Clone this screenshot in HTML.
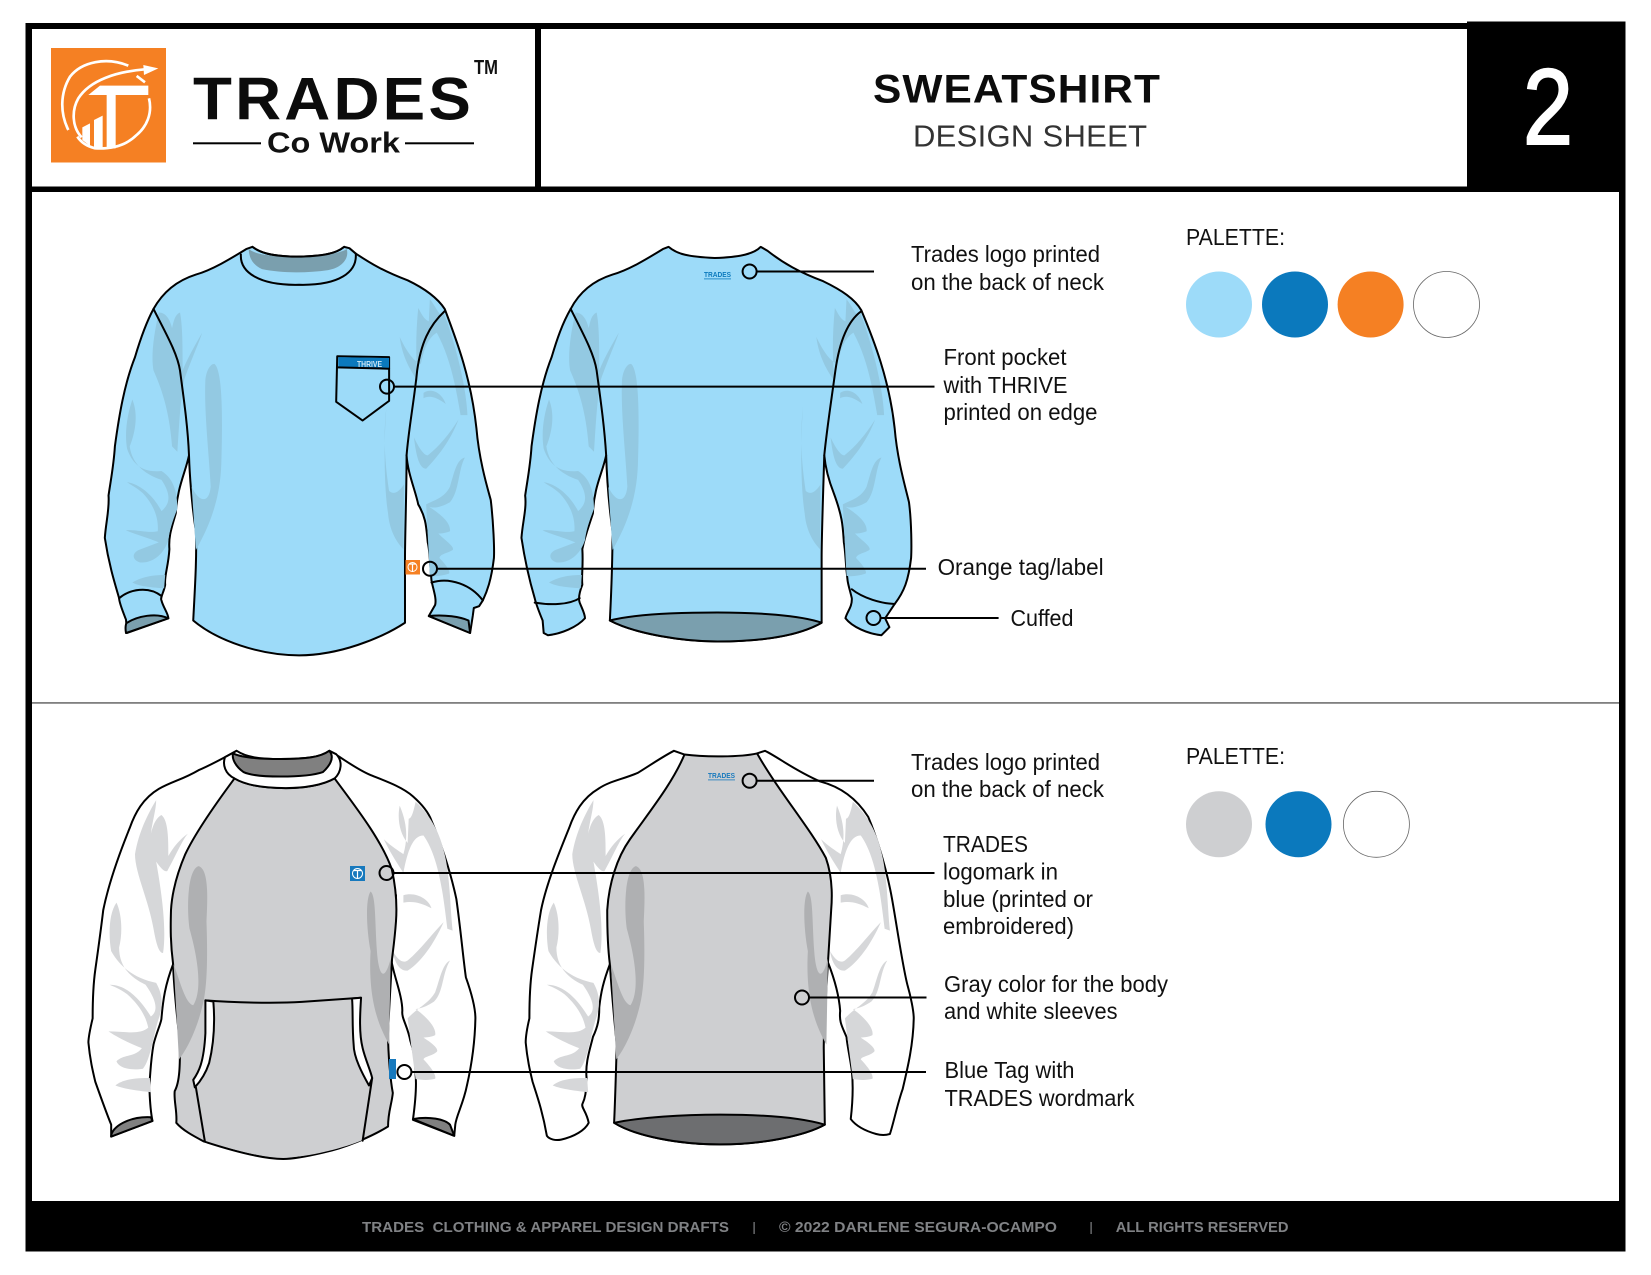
<!DOCTYPE html>
<html><head><meta charset="utf-8"><style>
html,body{margin:0;padding:0;background:#fff}
svg{display:block}
text{font-family:"Liberation Sans",sans-serif}
.o{stroke:#000;stroke-width:2;stroke-linejoin:round;stroke-linecap:round;vector-effect:non-scaling-stroke}
.n{fill:none}
.l{fill:none;stroke:#000;stroke-width:2}
.t{font-size:23.5px;fill:#111}
.f{font-size:15px;font-weight:bold;fill:#808285}
</style></head><body>
<svg xmlns="http://www.w3.org/2000/svg" width="1651" height="1275" viewBox="0 0 1651 1275">
<rect width="1651" height="1275" fill="#fff"/>
<!-- frame -->
<rect x="25.5" y="23" width="1600" height="1228.5" fill="#000"/>
<rect x="32" y="192" width="1587" height="1009" fill="#fff"/>
<rect x="32" y="29" width="503" height="157.500" fill="#fff"/>
<rect x="541" y="29" width="926" height="157.500" fill="#fff"/>
<rect x="1467" y="21.500" width="158.500" height="20" fill="#000"/>
<rect x="32" y="702" width="1587" height="1.800" fill="#808080"/>

<!-- logo -->
<rect x="51" y="48" width="115" height="114.500" fill="#F58023"/>
<g transform="translate(20,20) scale(.3333)">
<g fill="none" stroke="#fff" stroke-width="8">
<path d="M145 330 C120 280 120 220 150 170 C185 125 260 110 325 137"/>
<path d="M185 352 C155 320 155 270 175 235 C210 180 290 155 375 148"/>
<path d="M350 168 L375 187"/>
<path d="M387 235 C398 280 380 320 350 345 C320 375 280 388 225 385 C205 380 185 370 172 350"/>
</g>
<path d="M370 135 L415 145 L372 165 Z" fill="#fff"/>
<path d="M205 225 L240 197 L385 197 L385 225 L287 225 L287 385 L260 385 L260 225 Z" fill="#fff"/>
<path d="M187 322 L210 310 L210 378 L187 360 Z M222 300 L248 287 L248 388 L222 382 Z" fill="#fff"/>
</g>
<text x="193" y="119.500" font-size="60" font-weight="bold" fill="#0c0c0c" letter-spacing="3" textLength="281" lengthAdjust="spacingAndGlyphs">TRADES</text>
<text x="474" y="74" font-size="20.500" font-weight="bold" fill="#111" textLength="24" lengthAdjust="spacingAndGlyphs">TM</text>
<rect x="193" y="142.300" width="68" height="2" fill="#000"/>
<rect x="405" y="142.300" width="69" height="2" fill="#000"/>
<text x="267" y="152.500" font-size="29" font-weight="bold" fill="#111" textLength="133" lengthAdjust="spacingAndGlyphs">Co Work</text>

<!-- title -->
<text x="873" y="102.500" font-size="40" font-weight="bold" fill="#0c0c0c" letter-spacing="1" textLength="288" lengthAdjust="spacingAndGlyphs">SWEATSHIRT</text>
<text x="913" y="146.300" font-size="31" fill="#333" textLength="234" lengthAdjust="spacing">DESIGN SHEET</text>
<text x="1523" y="144" font-size="108" fill="#fff" stroke="#fff" stroke-width="2" textLength="50" lengthAdjust="spacingAndGlyphs">2</text>

<defs>
<g id="shTop" fill="#93C9E2">
<path d="M300 700 C290 750 285 800 290 830 C305 870 320 920 325 1000 L335 1012 C338 960 340 900 348 850 C360 810 375 770 382 745 C370 770 355 800 345 830 C345 780 345 730 340 700 C330 705 328 720 325 735 C322 720 315 700 300 700Z"/>
<path d="M250 895 C240 930 235 970 240 1005 C250 1040 270 1060 305 1055 C325 1070 335 1095 335 1140 C325 1170 320 1190 318 1210 C310 1240 290 1262 265 1260 C250 1255 248 1240 262 1232 L300 1215 C280 1205 250 1195 238 1188 C255 1185 280 1195 298 1190 C300 1160 290 1130 270 1105 C258 1092 245 1085 240 1080 C265 1085 290 1110 305 1145 C320 1130 325 1110 305 1075 C280 1065 250 1045 245 1000 C255 970 262 930 250 895Z"/>
<path d="M250 1305 C270 1290 295 1288 312 1288 L310 1318 C290 1316 265 1315 250 1305Z"/>
<path d="M405 815 C422 830 420 960 418 1040 C416 1110 400 1170 370 1232 L362 1090 C375 1125 395 1130 398 1090 C395 1020 385 920 388 850 C390 830 397 815 405 815Z"/>
<path d="M730 910 C722 990 730 1060 735 1100 C745 1110 755 1100 763 1085 L762 1230 C745 1210 735 1180 733 1150 C725 1090 725 980 730 910Z"/>
<path d="M755 755 C760 800 775 830 790 855 C785 810 785 750 790 690 C795 700 800 715 810 720 L812 670 C825 690 835 720 838 700 C860 770 880 860 883 930 L870 930 C860 860 850 800 825 745 C805 760 800 790 795 815 C780 810 765 780 755 755Z"/>
<path d="M800 880 C815 868 835 880 842 905 C825 890 812 885 800 892Z"/>
<path d="M866 940 C850 990 825 1025 805 1050 C790 1050 785 1010 782 980 C790 1000 800 1020 808 1020 C830 1000 850 970 866 940Z"/>
<path d="M878 1025 C865 1055 868 1100 850 1125 C835 1135 820 1140 810 1135 C830 1150 852 1170 850 1190 C840 1195 832 1195 828 1195 C840 1210 860 1225 855 1232 C845 1240 832 1240 830 1250 C840 1262 852 1280 848 1285 C835 1290 822 1292 812 1290 L805 1130 C820 1120 840 1115 850 1090 C858 1060 862 1030 878 1025Z"/>
</g>
<g id="shSleeve" fill="#D6D7D9">
<path d="M295 295 C280 330 262 380 255 440 C255 490 280 560 290 640 C295 680 300 705 308 705 C315 640 305 540 295 460 C300 470 310 490 316 485 C330 450 345 400 355 385 C340 400 328 420 318 445 C318 400 318 350 305 335 C292 345 288 370 285 385 C288 350 295 320 295 295Z"/>
<path d="M220 570 C205 600 205 660 210 700 C230 750 260 775 295 785 C305 810 310 840 300 880 C290 920 285 990 270 1015 C250 1020 225 1015 220 995 C235 975 255 985 268 960 C240 945 215 925 205 915 C235 915 265 925 280 905 C275 870 260 840 240 815 C225 800 215 795 207 790 C240 790 265 830 285 875 C300 860 295 830 275 790 C245 770 225 740 225 690 C232 650 230 600 220 570Z"/>
<path d="M218 1060 C235 1040 265 1040 283 1040 L285 1078 C265 1075 235 1070 218 1060Z"/>
<path d="M755 310 C750 345 755 385 770 410 L772 345 C778 345 782 320 785 300 C810 330 830 380 838 430 C850 490 850 580 855 645 L845 640 C838 560 830 450 800 390 C780 390 770 430 762 490 C748 460 735 430 725 400 C740 420 752 430 762 440 C770 400 770 360 755 310Z"/>
<path d="M762 550 C785 540 810 560 815 585 C795 570 780 565 762 570Z"/>
<path d="M838 622 C820 680 795 730 770 752 C755 755 745 730 742 700 C750 720 760 735 770 725 C795 695 815 655 838 622Z"/>
<path d="M850 725 C835 760 838 810 820 835 C805 850 790 855 785 855 C805 875 825 905 822 925 C812 932 805 930 800 932 C815 945 830 962 825 970 C815 982 802 982 800 990 C810 1005 825 1030 822 1042 C810 1047 795 1045 785 1043 L770 880 C790 850 810 840 822 810 C830 780 835 735 850 725Z"/>
</g>
<g id="shBody" fill="#AFB0B2">
<path d="M375 472 C395 480 392 560 390 620 C392 700 392 780 385 830 C375 900 355 960 338 990 L328 735 C340 780 350 840 365 845 C385 800 370 700 358 640 C352 580 355 480 375 472Z"/>
<path d="M700 540 C710 550 708 620 712 700 C715 760 725 790 738 720 L735 950 C715 900 695 830 700 700 C692 640 690 560 700 540Z"/>
</g>
</defs>

<!-- TOP FRONT -->
<g transform="scale(.5294,.4464)">
<path class="o" fill="#9DDBF9" d="M477 553 C490 565 510 574 560 575 C610 574 635 568 650 553 L660 556 L672 568 C700 590 725 608 770 628 C800 645 825 665 840 692 C865 770 890 850 900 960 C905 1030 920 1090 927 1120 C932 1170 934 1230 933 1250 C928 1300 920 1325 912 1345 L905 1358 L895 1362 L893 1380 L888 1418 L810 1380 L822 1355 C825 1340 818 1320 815 1300 C812 1260 812 1235 808 1215 C805 1180 805 1160 790 1130 C785 1100 770 1060 768 1020 C768 1100 765 1200 765 1250 L765 1395 C720 1430 640 1468 565 1468 C490 1468 410 1435 365 1390 C368 1320 372 1250 370 1190 C362 1130 358 1060 357 1020 C350 1060 335 1090 332 1150 C325 1180 318 1200 320 1230 C318 1270 310 1290 312 1310 C310 1325 302 1340 305 1345 C308 1360 318 1375 318 1385 L240 1418 L238 1388 C232 1370 225 1350 225 1340 C215 1300 205 1260 198 1205 C200 1170 207 1140 205 1110 C210 1070 215 1040 217 1000 C225 930 235 860 255 800 C265 760 275 725 290 692 C305 660 330 630 370 615 C400 605 435 580 465 558 Z"/>
<use href="#shTop"/>
<path fill="#7A9FAE" d="M470 558 C485 572 520 575 560 575 C610 574 640 568 655 558 C660 580 645 600 620 605 C580 612 530 612 495 603 C480 595 470 580 470 558 Z"/>
<path fill="#7A9FAE" class="o" d="M238 1418 C236 1405 238 1395 240 1395 C260 1380 295 1372 318 1385 Z"/>
<path fill="#7A9FAE" class="o" d="M810 1380 C840 1376 870 1382 885 1390 L888 1418 Z"/>
<path class="o n" d="M477 553 C490 565 510 574 560 575 C610 574 635 568 650 553"/>
<path class="o n" d="M455 570 C453 610 490 640 565 638 C640 640 675 610 672 568"/>
<path class="o n" d="M290 692 C310 740 335 790 340 830 C348 900 355 960 357 1020"/>
<path class="o n" d="M840 697 C810 730 795 770 788 830 C782 900 772 960 768 1020"/>
<path class="o n" d="M225 1340 C245 1320 280 1312 305 1335"/>
<path class="o n" d="M815 1305 C850 1292 890 1310 912 1345"/>
<path class="o" fill="#9DDBF9" d="M637 798 L735 800 L735 898 L685 942 L635 900 Z"/>
<path fill="#0B79BD" d="M639 800 L735 802 L735 824 L639 822 Z"/>
<path class="o n" d="M637 823 L735 826"/>
</g>
<text x="357" y="367" font-size="8" font-weight="bold" fill="#cfe8f5" textLength="25" lengthAdjust="spacingAndGlyphs">THRIVE</text>
<rect x="405.500" y="560" width="14.500" height="14.500" fill="#F58023"/>
<circle cx="412.500" cy="567" r="4.500" fill="none" stroke="#fff" stroke-width="1"/>
<path d="M409 564 H416 M412.500 564 V572" stroke="#fff" stroke-width="1.200" fill="none"/>

<!-- TOP BACK -->
<g transform="scale(.5294,.4464)">
<path class="o" fill="#9DDBF9" d="M1263 553 C1280 570 1300 575 1350 578 C1400 576 1425 568 1437 553 L1450 562 C1480 590 1510 610 1555 630 C1590 650 1615 670 1627 695 C1650 760 1680 850 1690 960 C1695 1030 1710 1090 1717 1125 C1722 1170 1722 1230 1721 1250 C1716 1300 1708 1325 1690 1353 L1672 1385 L1680 1405 L1665 1423 C1640 1420 1610 1405 1597 1385 C1600 1370 1610 1360 1609 1340 C1605 1320 1602 1310 1601 1300 C1597 1260 1597 1235 1594 1215 C1592 1180 1592 1160 1575 1105 C1570 1090 1560 1060 1557 1020 C1555 1100 1552 1200 1552 1250 L1552 1395 C1500 1430 1420 1437 1355 1437 C1290 1437 1200 1420 1152 1390 C1155 1320 1157 1250 1157 1190 C1150 1130 1146 1060 1145 1020 C1138 1060 1122 1090 1120 1150 C1112 1180 1105 1200 1100 1230 C1102 1270 1098 1290 1100 1310 C1095 1325 1092 1340 1095 1350 C1100 1365 1105 1375 1105 1385 C1090 1405 1060 1420 1035 1423 L1027 1418 L1025 1390 C1018 1370 1012 1350 1010 1340 C1000 1300 992 1260 985 1205 C987 1170 995 1140 992 1110 C997 1070 1002 1040 1004 1000 C1012 930 1022 860 1042 800 C1052 760 1062 725 1078 692 C1092 660 1117 630 1157 615 C1187 605 1222 580 1252 558 Z"/>
<use href="#shTop" transform="translate(787,0)"/>
<path fill="#7A9FAE" class="o" d="M1152 1390 C1200 1375 1290 1372 1355 1372 C1430 1372 1510 1378 1552 1395 C1500 1430 1420 1437 1355 1437 C1290 1437 1200 1420 1152 1390Z"/>
<path class="o n" d="M1078 692 C1098 740 1122 790 1127 830 C1135 900 1142 960 1145 1020"/>
<path class="o n" d="M1627 697 C1600 720 1585 770 1578 830 C1570 900 1562 960 1557 1020"/>
<path class="o n" d="M1010 1350 C1040 1356 1075 1355 1095 1340"/>
<path class="o n" d="M1609 1320 C1630 1340 1665 1352 1690 1353"/>
</g>
<text x="704" y="277" font-size="7" font-weight="bold" fill="#0B79BD" textLength="27" lengthAdjust="spacingAndGlyphs">TRADES</text>
<rect x="704" y="278.500" width="27" height=".8" fill="#0B79BD"/>

<!-- BOTTOM FRONT -->
<g transform="translate(0,690) scale(.5294,.3731)">
<path class="o" fill="#fff" d="M447 163 C425 180 400 200 375 215 C345 240 325 245 300 265 C270 290 255 330 245 370 C225 440 205 520 195 590 C190 650 185 700 180 750 C175 800 175 850 175 880 C170 910 167 930 167 945 C170 990 175 1020 180 1050 C190 1090 200 1130 210 1165 L210 1197 L288 1155 C283 1120 283 1090 282 1060 C285 1010 285 990 290 950 C295 920 305 890 305 880 C308 830 312 790 327 735 L340 480 L443 237 Z"/>
<path class="o" fill="#fff" d="M622 163 C645 180 670 210 700 228 C730 245 760 260 780 285 C800 310 810 330 815 350 C830 400 850 480 862 560 C870 640 875 720 880 770 C890 810 898 850 898 880 C897 950 890 1010 882 1060 C875 1110 862 1140 860 1165 L858 1195 L780 1152 C785 1100 787 1060 785 1030 C785 990 780 960 775 940 C770 900 758 880 760 860 C760 820 745 770 740 730 L748 550 L632 237 Z"/>
<use href="#shSleeve"/>
<path class="o" fill="#CECFD1" d="M443 237 C470 260 510 263 540 263 C575 263 610 255 632 237 C670 310 720 400 740 480 C748 530 750 580 748 620 C745 680 740 720 740 730 C738 790 735 850 733 920 C733 980 738 1050 742 1080 C740 1110 733 1130 733 1170 C710 1190 660 1225 610 1240 C580 1250 555 1257 535 1257 C500 1257 450 1240 385 1210 C365 1195 345 1180 333 1160 C335 1130 328 1100 330 1075 C340 1050 340 1000 340 950 C335 880 328 800 327 735 C322 680 322 640 323 590 C325 540 335 490 350 440 C370 380 410 300 443 237 Z"/>
<use href="#shBody"/>
<path fill="#CECFD1" d="M388 832 C440 838 520 840 570 836 L682 825 L703 1040 L685 1206 C650 1228 580 1253 535 1253 C490 1253 430 1228 387 1206 L370 1065 C390 1000 390 900 388 832Z"/>
<path class="o" fill="#fff" d="M425 180 C420 200 425 225 443 237 C470 260 510 263 540 263 C575 263 610 255 632 237 C645 220 648 190 635 172 L622 163 C605 180 580 185 530 185 C490 185 465 180 447 163Z"/>
<path class="o" fill="#808080" d="M440 170 C455 180 490 185 530 185 C580 185 605 180 622 163 C632 180 625 200 610 220 C590 230 560 232 530 232 C500 232 475 230 460 220 C445 205 438 185 440 170Z"/>
<path class="o n" d="M388 832 C440 838 520 840 570 836 L682 825"/>
<path class="o" fill="#fff" d="M388 832 L403 835 C405 870 407 930 395 1000 C388 1030 378 1050 368 1065 L365 1045 C375 1025 385 1000 388 920 Z"/>
<path class="o" fill="#fff" d="M665 827 L682 825 C680 870 678 920 685 960 C690 990 700 1020 703 1040 L697 1060 C685 1030 668 985 668 950 C665 900 667 860 665 827 Z"/>
<path class="o n" d="M370 1065 L387 1210"/>
<path class="o n" d="M703 1040 L685 1208"/>
<path class="o" fill="#808080" d="M210 1197 C210 1170 245 1142 285 1145 L288 1155 Z"/>
<path class="o" fill="#808080" d="M780 1150 C810 1142 840 1150 850 1165 L858 1195 Z"/>
</g>
<rect x="350" y="866" width="15" height="15" fill="#1779BD"/>
<circle cx="357.500" cy="873.500" r="5" fill="none" stroke="#fff" stroke-width="1"/>
<path d="M354 870.500 H361 M357.500 870.500 V878" stroke="#fff" stroke-width="1.200" fill="none"/>
<rect x="389" y="1059" width="7" height="20" fill="#1779BD"/>

<!-- BOTTOM BACK -->
<g transform="translate(0,690) scale(.5294,.3731)">
<path class="o" fill="#fff" d="M1273 163 C1250 180 1230 200 1205 222 C1175 240 1150 245 1130 265 C1100 290 1085 330 1075 370 C1055 440 1032 520 1022 590 C1015 650 1010 700 1005 750 C1000 800 1000 850 1000 880 C995 910 993 930 993 945 C996 990 1001 1020 1006 1050 C1015 1090 1025 1130 1033 1195 C1038 1205 1050 1208 1060 1205 C1085 1197 1105 1180 1112 1160 C1108 1130 1098 1120 1100 1110 C1110 1080 1105 1060 1108 1040 C1105 1000 1115 960 1120 930 C1130 900 1132 880 1132 850 C1135 810 1140 780 1152 735 L1200 480 L1320 200 L1293 173 Z"/>
<path class="o" fill="#fff" d="M1445 163 C1470 180 1500 215 1549 245 C1590 260 1620 295 1640 340 C1655 390 1675 480 1685 560 C1695 640 1705 740 1714 790 C1720 820 1726 860 1726 880 C1725 950 1715 1010 1705 1070 C1695 1110 1688 1160 1681 1190 C1670 1195 1660 1192 1655 1190 C1630 1180 1615 1165 1607 1150 C1611 1100 1612 1060 1609 1020 C1605 980 1600 950 1599 930 C1590 900 1585 890 1587 860 C1585 820 1575 770 1564 730 L1540 550 L1420 200 L1430 170 Z"/>
<use href="#shSleeve" transform="translate(826,0)"/>
<path class="o" fill="#CECFD1" d="M1293 173 C1330 180 1400 180 1430 170 C1470 270 1530 370 1560 450 C1570 490 1573 540 1570 590 C1567 660 1565 700 1564 730 C1561 800 1556 900 1556 960 C1557 1050 1558 1120 1558 1165 C1520 1195 1440 1218 1360 1218 C1280 1218 1200 1195 1160 1160 C1162 1100 1163 1050 1165 950 C1160 880 1155 800 1152 735 C1147 680 1147 620 1147 590 C1150 520 1165 450 1190 400 C1230 320 1270 250 1293 173 Z"/>
<use href="#shBody" transform="translate(826,0)"/>
<path class="o" fill="#6D6E70" d="M1160 1160 C1210 1145 1290 1138 1360 1138 C1440 1138 1510 1145 1558 1165 C1520 1195 1440 1218 1360 1218 C1280 1218 1200 1195 1160 1160Z"/>
</g>
<text x="708" y="778" font-size="7" font-weight="bold" fill="#1779BD" textLength="27" lengthAdjust="spacingAndGlyphs">TRADES</text>
<rect x="708" y="779.500" width="27" height=".8" fill="#1779BD"/>

<!-- leaders -->
<g class="l">
<ellipse cx="749.600" cy="271.500" rx="7" ry="7"/><path d="M756.600 271.500 H874"/>
<ellipse cx="387" cy="386.600" rx="7" ry="7"/><path d="M394 386.600 H934.500"/>
<ellipse cx="430" cy="568.700" rx="7" ry="7"/><path d="M437 568.700 H926"/>
<ellipse cx="873.500" cy="618" rx="7" ry="7"/><path d="M880.500 618 H998.600"/>
<ellipse cx="749.600" cy="780.700" rx="7" ry="7"/><path d="M756.600 780.700 H874"/>
<ellipse cx="386.500" cy="873" rx="7" ry="7"/><path d="M393.500 873 H934.500"/>
<ellipse cx="802" cy="997.500" rx="7" ry="7"/><path d="M809 997.500 H926.500"/>
<ellipse cx="404.400" cy="1072" rx="7" ry="7"/><path d="M411.400 1072 H926"/>
</g>

<!-- labels -->
<text class="t" x="911" y="262" textLength="189" lengthAdjust="spacingAndGlyphs">Trades logo printed</text>
<text class="t" x="911" y="290" textLength="193" lengthAdjust="spacingAndGlyphs">on the back of neck</text>
<text class="t" x="943.500" y="365" textLength="123" lengthAdjust="spacingAndGlyphs">Front pocket</text>
<text class="t" x="943.500" y="393" textLength="124" lengthAdjust="spacingAndGlyphs">with THRIVE</text>
<text class="t" x="943.500" y="420" textLength="154" lengthAdjust="spacingAndGlyphs">printed on edge</text>
<text class="t" x="937.600" y="575" textLength="166" lengthAdjust="spacingAndGlyphs">Orange tag/label</text>
<text class="t" x="1010.500" y="626" textLength="63" lengthAdjust="spacingAndGlyphs">Cuffed</text>
<text class="t" x="1186" y="245" textLength="99" lengthAdjust="spacingAndGlyphs">PALETTE:</text>
<text class="t" x="911" y="770" textLength="189" lengthAdjust="spacingAndGlyphs">Trades logo printed</text>
<text class="t" x="911" y="797" textLength="193" lengthAdjust="spacingAndGlyphs">on the back of neck</text>
<text class="t" x="943" y="852" textLength="85" lengthAdjust="spacingAndGlyphs">TRADES</text>
<text class="t" x="943" y="879.600" textLength="115" lengthAdjust="spacingAndGlyphs">logomark in</text>
<text class="t" x="943" y="907" textLength="150" lengthAdjust="spacingAndGlyphs">blue (printed or</text>
<text class="t" x="943" y="934" textLength="131" lengthAdjust="spacingAndGlyphs">embroidered)</text>
<text class="t" x="944" y="992" textLength="224" lengthAdjust="spacingAndGlyphs">Gray color for the body</text>
<text class="t" x="944" y="1019" textLength="173.500" lengthAdjust="spacingAndGlyphs">and white sleeves</text>
<text class="t" x="944.500" y="1078" textLength="130" lengthAdjust="spacingAndGlyphs">Blue Tag with</text>
<text class="t" x="944.500" y="1106" textLength="190" lengthAdjust="spacingAndGlyphs">TRADES wordmark</text>
<text class="t" x="1186" y="764" textLength="99" lengthAdjust="spacingAndGlyphs">PALETTE:</text>

<!-- palettes -->
<circle cx="1219" cy="304.500" r="33" fill="#9DDBF9"/>
<circle cx="1295" cy="304.500" r="33" fill="#0B79BD"/>
<circle cx="1370.600" cy="304.500" r="33" fill="#F58023"/>
<circle cx="1446.500" cy="304.500" r="33" fill="#fff" stroke="#666" stroke-width=".8"/>
<circle cx="1219" cy="824.300" r="33" fill="#CECFD1"/>
<circle cx="1298.500" cy="824.300" r="33" fill="#0B79BD"/>
<circle cx="1376.400" cy="824.300" r="33" fill="#fff" stroke="#666" stroke-width=".8"/>

<!-- footer -->
<text class="f" x="362" y="1232" textLength="367" lengthAdjust="spacingAndGlyphs" xml:space="preserve">TRADES  CLOTHING &amp; APPAREL DESIGN DRAFTS</text>
<rect x="753.500" y="1222" width="1.200" height="12" fill="#808285"/>
<text class="f" x="779" y="1232" textLength="278" lengthAdjust="spacingAndGlyphs">© 2022 DARLENE SEGURA-OCAMPO</text>
<rect x="1090.500" y="1222" width="1.200" height="12" fill="#808285"/>
<text class="f" x="1115.700" y="1232" textLength="172.800" lengthAdjust="spacingAndGlyphs">ALL RIGHTS RESERVED</text>
</svg>
</body></html>
